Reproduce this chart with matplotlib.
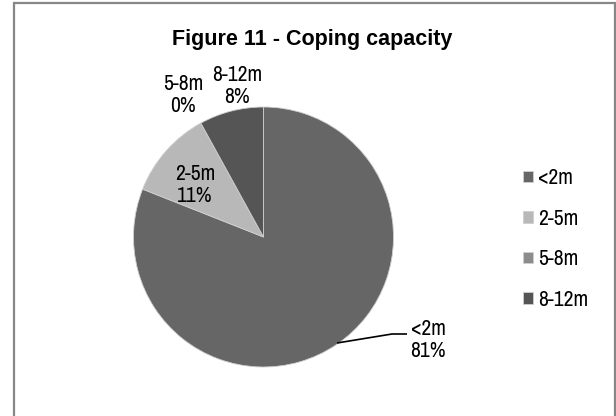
import matplotlib
matplotlib.use("Agg")
import matplotlib.pyplot as plt
from matplotlib.patches import Rectangle
from matplotlib import font_manager

categories = ["<2m", "2-5m", "5-8m", "8-12m"]
shares = [81, 11, 0, 8]
colors = ["#666666", "#b8b8b8", "#8c8c8c", "#555555"]
title = "Figure 11 - Coping capacity"

names = {f.name for f in font_manager.fontManager.ttflist}
narrow = next((n for n in ["Liberation Sans Narrow", "Arial Narrow", "Nimbus Sans Narrow",
                           "Archivo Narrow", "Liberation Sans"] if n in names), "DejaVu Sans")
plt.rcParams["font.family"] = [narrow, "DejaVu Sans"]

W, H = 616, 416
fig = plt.figure(figsize=(W / 100, H / 100), dpi=100)
fig.patch.set_facecolor("white")

# outer chart frame
fig.add_artist(Rectangle((13.5 / W, -0.02), (615 - 13.5) / W, 1.02 - 2.5 / H,
                         transform=fig.transFigure, fill=False,
                         edgecolor="#878787", linewidth=1.6))

cx, cy, r = 263.5, 237, 130
ax = fig.add_axes([(cx - r) / W, 1 - (cy + r) / H, 2 * r / W, 2 * r / H])
wedges, _ = ax.pie(shares, colors=colors, startangle=90, counterclock=False,
                   radius=1.0, wedgeprops=dict(linewidth=0.6, edgecolor="#cfcfcf"))
ax.set_xlim(-1, 1)
ax.set_ylim(-1, 1)
ax.set_aspect("equal")
ax.axis("off")

fs = 15.5
ls = 1.1

def px(x, y):
    """pixel position -> data coords of the pie axes"""
    return ((x - cx) / r, (cy - y) / r)

# leader line for the large slice
lx, ly = zip(*[px(337, 343), px(392, 334), px(407, 334)])
ax.plot(lx, ly, color="black", lw=1.2, clip_on=False, solid_capstyle="butt")

ax.text(*px(428, 340), f"{categories[0]}\n{shares[0]}%", ha="center", va="center",
        fontsize=fs, linespacing=ls, clip_on=False)
ax.text(*px(195, 185), f"{categories[1]}\n{shares[1]}%", ha="center", va="center",
        fontsize=fs, linespacing=ls)
ax.text(*px(183, 95), f"{categories[2]}\n{shares[2]}%", ha="center", va="center",
        fontsize=fs, linespacing=ls, clip_on=False)
ax.text(*px(237, 86), f"{categories[3]}\n{shares[3]}%", ha="center", va="center",
        fontsize=fs, linespacing=ls, clip_on=False)

fig.text(312 / W, 1 - 40 / H, title, ha="center", va="center",
         fontsize=15.5, fontweight="bold", family=["Liberation Sans", "DejaVu Sans"])

leg = fig.legend(wedges, categories, loc="center left",
                 bbox_to_anchor=(523 / W, 1 - 239 / H), frameon=False,
                 fontsize=fs, handlelength=0.45, handleheight=0.45,
                 handletextpad=0.25, labelspacing=0.95, borderaxespad=0,
                 borderpad=0)

fig.savefig("out.png", dpi=100, facecolor="white")
